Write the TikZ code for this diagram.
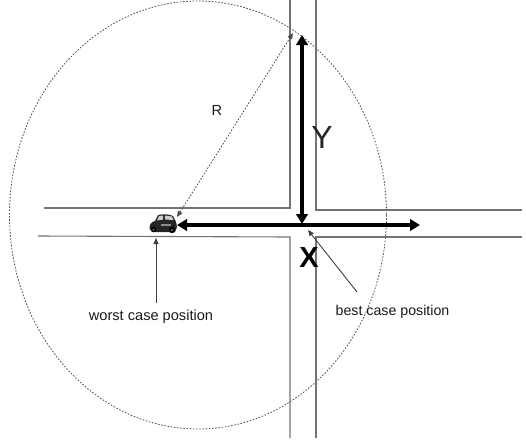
\documentclass[tikz,border=0pt]{standalone}
\usepackage{fontspec}
\setmainfont{Liberation Sans}
\usetikzlibrary{arrows.meta}
\tikzset{
 road/.style={draw=black!55,line width=1.1pt},
 thick arrow/.style={line width=3.4pt,{Triangle[length=10pt,width=11.5pt]}-{Triangle[length=10pt,width=11.5pt]}},
 thin arrow/.style={draw=black!75,line width=0.9pt,-{Triangle[length=6pt,width=5pt]}},
 dot line/.style={draw=black!70,line width=0.8pt,dash pattern=on 1.6pt off 1.6pt},
 label text/.style={inner sep=0pt,font=\fontsize{14.6pt}{16pt}\selectfont,text=black!90}
}
\begin{document}
\begin{tikzpicture}[x=1pt,y=-1pt]
\useasboundingbox (0,0) rectangle (526,442);
% range ellipse
\draw[dot line] (198,215) ellipse [x radius=188.5,y radius=214];
% roads
\coordinate (v1a) at (290,0); \coordinate (v1b) at (290,208);
\coordinate (v1c) at (290,237); \coordinate (v1d) at (290,438);
\coordinate (v2a) at (316,0); \coordinate (v2b) at (316,210);
\coordinate (v2c) at (316,237); \coordinate (v2d) at (316,438);
\coordinate (h1a) at (44,208); \coordinate (h2a) at (38,236);
\coordinate (h1b) at (522,210); \coordinate (h2b) at (522,237);
\draw[road] (v1a) -- (v1b) -- (h1a);
\draw[road] (v1d) -- (v1c) -- (h2a);
\draw[road] (v2a) -- (v2b) -- (h1b);
\draw[road] (v2d) -- (v2c) -- (h2b);
% car
\begin{scope}[shift={(163,224)}]
 \fill[black!85] (-13.5,5) .. controls (-14,1) and (-12,-2) .. (-8,-3) -- (-5,-9) .. controls (0,-10) and (6,-10) .. (10,-8)
   -- (13,-2) -- (14,3) -- (12,8) -- (-9,8) -- cycle;
 \fill[black!20] (-4,-8) -- (0,-8.5) -- (0,-4.5) -- (-6,-3.5) -- cycle;
 \fill[black!20] (2,-8.5) -- (9,-7.5) -- (10.5,-4) -- (2,-4.5) -- cycle;
 \fill[black!45] (-2,0) rectangle (8,2);
 \fill[black] (-9.5,5.5) circle (2.8) (9,6) circle (3.2);
 \fill[black!50] (-9.5,5.5) circle (1) (9,6) circle (1.1);
\end{scope}
\coordinate (carR) at (177,217);
\coordinate (carX) at (177,225);
\coordinate (carB) at (156,238);
\coordinate (rTop) at (293,33);
\coordinate (xEnd) at (420,225);
\coordinate (yTop) at (302,35);
\coordinate (yBot) at (302,224);
\coordinate (bestTip) at (308,230);
\coordinate (bestTail) at (357,292);
\coordinate (worstTail) at (156,303);
% arrows
\draw[dot line,{Triangle[length=6pt,width=5pt]}-{Triangle[length=6pt,width=5pt]}] (carR) -- (rTop);
\draw[thick arrow] (carX) -- (xEnd);
\draw[thick arrow] (yTop) -- (yBot);
\draw[thin arrow] (worstTail) -- (carB);
\draw[thin arrow] (bestTail) -- (bestTip);
% labels
\node[label text] (r) at (217,110) {R};
\node[inner sep=0pt,font=\fontsize{32pt}{34pt}\selectfont,text=black!85] (y) at (322,137) {Y};
\node[inner sep=0pt,font=\bfseries\fontsize{29pt}{30pt}\selectfont] (x) at (309,258) {X};
\node[label text] (w) at (151,317) {worst case position};
\node[label text,font=\fontsize{14.2pt}{16pt}\selectfont] (b) at (392.5,312) {best case position};
\end{tikzpicture}
\end{document}
